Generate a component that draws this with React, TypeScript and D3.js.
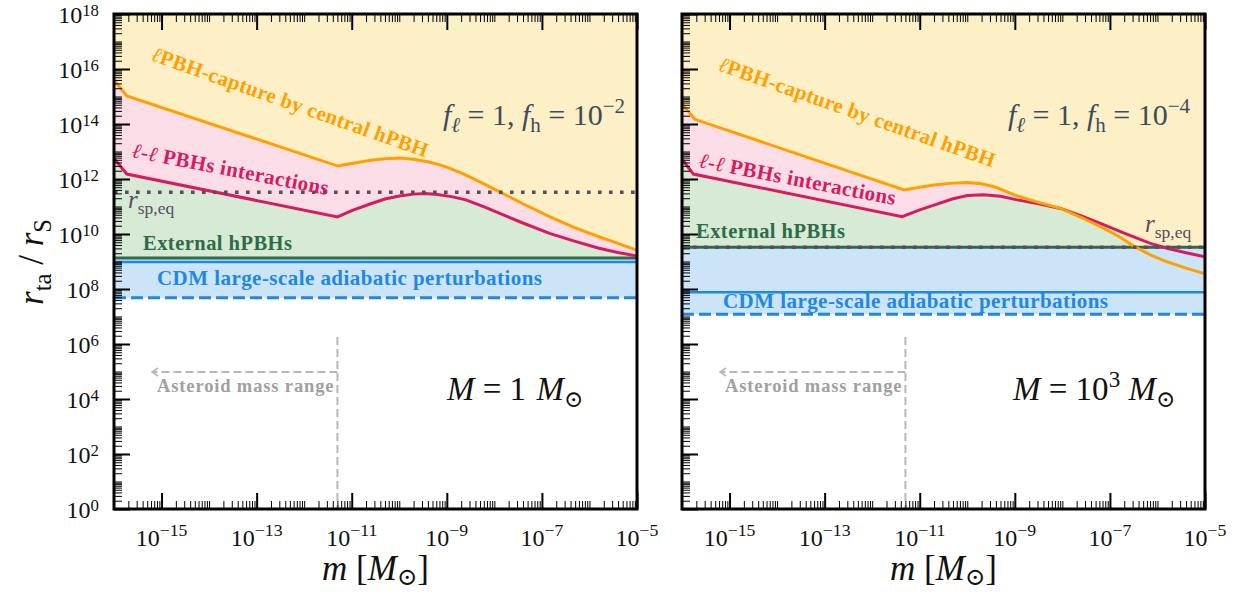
import React, { useEffect, useRef } from 'react';
import * as d3 from 'd3';

const FONT = '"Liberation Serif", "DejaVu Serif", serif';
const W = 1239;
const H = 596;

// values are log10(m / Msun) and log10(r_ta / r_S)
const captureM1 = [-16, -15.73, -11.29, -11.0, -10.6, -10.3, -10.0, -9.7, -9.4, -9.2, -9.0, -8.7, -8.4, -7.9, -7.4, -6.84, -6.3, -5.8, -5.4, -5.0];
const captureR1 = [15.6, 15.02, 12.47, 12.56, 12.68, 12.74, 12.76, 12.72, 12.63, 12.54, 12.43, 12.22, 11.98, 11.54, 11.1, 10.63, 10.22, 9.9, 9.66, 9.41];
const pairM1 = [-16, -15.73, -11.3, -11.0, -10.6, -10.3, -10.0, -9.7, -9.45, -9.2, -8.9, -8.6, -8.2, -7.9, -7.4, -6.84, -6.3, -5.8, -5.4, -5.0];
const pairR1 = [12.75, 12.18, 10.62, 10.85, 11.1, 11.27, 11.38, 11.45, 11.47, 11.44, 11.36, 11.24, 10.98, 10.76, 10.4, 10.02, 9.73, 9.48, 9.33, 9.2];

const captureM2 = [-16, -15.73, -11.33, -11.0, -10.7, -10.3, -10.0, -9.7, -9.4, -9.15, -8.95, -8.5, -8.04, -7.6, -7.2, -6.8, -6.5, -6.15, -5.8, -5.4, -5.0];
const captureR2 = [14.73, 14.17, 11.6, 11.7, 11.78, 11.85, 11.87, 11.83, 11.7, 11.52, 11.38, 11.15, 10.93, 10.6, 10.27, 9.9, 9.56, 9.24, 8.99, 8.76, 8.55];
const pairM2 = [-16, -15.76, -11.37, -11.0, -10.7, -10.3, -10.0, -9.66, -9.3, -8.95, -8.5, -8.04, -7.6, -7.2, -6.7, -6.15, -5.8, -5.4, -5.0];
const pairR2 = [12.72, 12.18, 10.63, 10.88, 11.05, 11.28, 11.4, 11.43, 11.37, 11.24, 11.1, 10.93, 10.66, 10.39, 10.03, 9.66, 9.48, 9.32, 9.17];

const hPbhLevel = [9.13, 9.52];
const cdmSolidLevel = [8.98, 7.88];
const cdmDashedLevel = [7.68, 7.08];
const rspEqLevel = [11.52, 9.52];
const fhExponent = [-2, -4];
const hostMassExponent = [0, 3];

const asteroidEdge = -11.3;
const asteroidTip = -15.2;

const xTickExps = [-15, -13, -11, -9, -7, -5];
const yTickExps = [0, 2, 4, 6, 8, 10, 12, 14, 16, 18];

// layout
const panelLeft = [114, 682];
const panelWidth = 523;
const plotTop = 14;
const plotBottom = 509;

const C = {
  yellow: 'rgb(253,240,198)',
  pinkFill: 'rgb(250,221,231)',
  greenFill: 'rgb(214,234,213)',
  blueFill: 'rgb(204,228,248)',
  orange: '#ffa000',
  pink: '#d81b60',
  green: '#2e6b47',
  blue: '#1e88e5',
  dotted: '#5b4a62',
  slate: '#3c4c5c',
  grey: '#b8b8b8',
  greyText: '#a0a0a0',
};

const pw = (e: number) => Math.pow(10, e);
const minus = (n: number) => (n < 0 ? '\u2212' + -n : String(n));

const interp = (xs: number[], ys: number[], v: number) => {
  if (v <= xs[0]) return ys[0];
  for (let k = 1; k < xs.length; k++) {
    if (v <= xs[k]) {
      const t = (v - xs[k - 1]) / (xs[k] - xs[k - 1]);
      return ys[k - 1] + t * (ys[k] - ys[k - 1]);
    }
  }
  return ys[ys.length - 1];
};

type Piece = { t: string; italic?: boolean; sub?: boolean; sup?: boolean; bold?: boolean; dx?: number; lift?: number; scale?: number };

function mathText(g: any, x: number, y: number, pieces: Piece[], size: number, color: string, anchor = 'start') {
  const t = g.append('text')
    .attr('x', x)
    .attr('y', y)
    .attr('font-family', FONT)
    .attr('font-size', size)
    .attr('fill', color)
    .attr('text-anchor', anchor)
    .style('white-space', 'pre');
  let shift = 0;
  pieces.forEach(p => {
    const target = p.lift !== undefined ? p.lift : p.sub ? size * 0.22 : p.sup ? -size * 0.4 : 0;
    const s = t.append('tspan').attr('dy', target - shift).text(p.t);
    shift = target;
    if (p.italic) s.attr('font-style', 'italic');
    if (p.bold) s.attr('font-weight', 'bold');
    if (p.sub || p.sup) s.attr('font-size', size * (p.scale || 0.7));
    if (p.dx) s.attr('dx', p.dx);
  });
  return t;
}

function drawPanel(svg: any, i: number) {
  const left = panelLeft[i];
  const x = d3.scaleLog().domain([1e-16, 1e-5]).range([left, left + panelWidth]);
  const y = d3.scaleLog().domain([1, 1e18]).range([plotBottom, plotTop]);

  const capM = i === 0 ? captureM1 : captureM2;
  const capR = i === 0 ? captureR1 : captureR2;
  const pairM = i === 0 ? pairM1 : pairM2;
  const pairR = i === 0 ? pairR1 : pairR2;
  const hLev = hPbhLevel[i];

  const clipId = `clip${i}`;
  svg.append('clipPath').attr('id', clipId)
    .append('rect')
    .attr('x', left).attr('y', plotTop)
    .attr('width', panelWidth).attr('height', plotBottom - plotTop);

  const g = svg.append('g').attr('clip-path', `url(#${clipId})`);

  // common grid for the fills
  const grid = Array.from(new Set([...d3.range(-16, -4.99, 0.02), ...capM, ...pairM])).sort((a, b) => a - b);
  const rows = grid.map(m => ({ m, cap: interp(capM, capR, m), pair: interp(pairM, pairR, m) }));

  g.append('path').datum(rows)
    .attr('fill', C.yellow)
    .attr('d', d3.area<any>().x(d => x(pw(d.m))).y0(d => y(pw(d.cap))).y1(plotTop));

  g.append('path').datum(rows)
    .attr('fill', C.pinkFill)
    .attr('d', d3.area<any>().x(d => x(pw(d.m))).y0(d => y(pw(d.pair))).y1(d => y(pw(Math.max(d.pair, d.cap)))));

  g.append('path').datum(rows)
    .attr('fill', C.greenFill)
    .attr('d', d3.area<any>().x(d => x(pw(d.m))).y0(y(pw(hLev))).y1(d => y(pw(Math.max(hLev, Math.min(d.pair, d.cap))))));

  const ends = [-16, -5];
  g.append('path').datum(ends)
    .attr('fill', C.blueFill)
    .attr('d', d3.area<number>().x(d => x(pw(d))).y0(y(pw(cdmDashedLevel[i]))).y1(y(pw(hLev))));

  const hline = (level: number) => d3.line<number>().x(d => x(pw(d))).y(() => y(pw(level)))(ends);

  g.append('path').attr('d', hline(hLev)).attr('stroke', C.green).attr('stroke-width', 3).attr('fill', 'none');
  g.append('path').attr('d', hline(cdmSolidLevel[i])).attr('stroke', C.blue).attr('stroke-width', 2.6).attr('fill', 'none');
  g.append('path').attr('d', hline(cdmDashedLevel[i])).attr('stroke', C.blue).attr('stroke-width', 3)
    .attr('stroke-dasharray', '12 5').attr('fill', 'none');

  const curve = (ms: number[], rs: number[]) =>
    d3.line<number>().x(d => x(pw(d))).y((d, k) => y(pw(rs[k])))(ms);

  g.append('path').attr('d', curve(pairM, pairR)).attr('stroke', C.pink).attr('stroke-width', 3).attr('fill', 'none');
  g.append('path').attr('d', curve(capM, capR)).attr('stroke', C.orange).attr('stroke-width', 3).attr('fill', 'none');

  g.append('path').attr('d', hline(rspEqLevel[i])).attr('stroke', C.dotted).attr('stroke-width', 3.6)
    .attr('stroke-dasharray', '3.6 7.4').attr('fill', 'none');

  // asteroid mass range marker
  const ax = x(pw(asteroidEdge));
  const tipX = x(pw(asteroidTip));
  const ay = 372;
  svg.append('line').attr('x1', ax).attr('x2', ax).attr('y1', 337).attr('y2', plotBottom)
    .attr('stroke', C.grey).attr('stroke-width', 2).attr('stroke-dasharray', '8 4');
  svg.append('line').attr('x1', ax).attr('x2', tipX + 1).attr('y1', ay).attr('y2', ay)
    .attr('stroke', C.grey).attr('stroke-width', 2).attr('stroke-dasharray', '8 4');
  svg.append('path').attr('d', `M${tipX + 6},${ay - 4} L${tipX},${ay} L${tipX + 6},${ay + 4}`)
    .attr('stroke', C.grey).attr('stroke-width', 1.6).attr('fill', 'none');
  svg.append('text').attr('x', tipX + 5).attr('y', 392)
    .attr('font-family', FONT).attr('font-weight', 'bold').attr('font-size', 18.5)
    .attr('fill', C.greyText).attr('textLength', ax - tipX - 9).text('Asteroid mass range');

  // region labels
  const lx = (dx: number) => left + dx;
  const capLabel = svg.append('text')
    .attr('transform', `translate(${lx(i === 0 ? 36 : 35)},${i === 0 ? 60 : 70}) rotate(19.5)`)
    .attr('font-family', FONT).attr('font-size', 21).attr('fill', C.orange)
    .attr('textLength', 292);
  capLabel.append('tspan').attr('font-style', 'italic').text('\u2113');
  capLabel.append('tspan').attr('font-weight', 'bold').text('PBH-capture by central hPBH');

  const pairLabel = svg.append('text')
    .attr('transform', `translate(${lx(i === 0 ? 17 : 16)},${i === 0 ? 157 : 167}) rotate(11)`)
    .attr('font-family', FONT).attr('font-size', 21).attr('fill', C.pink)
    .attr('textLength', 200);
  pairLabel.append('tspan').attr('font-style', 'italic').text('\u2113');
  pairLabel.append('tspan').attr('font-weight', 'bold').text('-');
  pairLabel.append('tspan').attr('font-style', 'italic').text('\u2113');
  pairLabel.append('tspan').attr('font-weight', 'bold').text(' PBHs interactions');

  svg.append('text').attr('x', lx(i === 0 ? 29 : 14)).attr('y', i === 0 ? 250 : 238)
    .attr('font-family', FONT).attr('font-weight', 'bold').attr('font-size', 20.5)
    .attr('fill', C.green).attr('textLength', 149).text('External hPBHs');

  svg.append('text').attr('x', lx(i === 0 ? 43 : 41)).attr('y', i === 0 ? 285 : 308)
    .attr('font-family', FONT).attr('font-weight', 'bold').attr('font-size', 21)
    .attr('fill', C.blue).attr('textLength', 385).text('CDM large-scale adiabatic perturbations');

  mathText(svg, i === 0 ? lx(14) : lx(463), i === 0 ? 208 : 232, [
    { t: 'r', italic: true },
    { t: 'sp,eq', sub: true },
  ], 25, C.dotted);

  mathText(svg, lx(i === 0 ? 329 : 326), 125, [
    { t: 'f', italic: true },
    { t: '\u2113', sub: true, italic: true },
    { t: ' = 1, ' },
    { t: 'f', italic: true },
    { t: 'h', sub: true },
    { t: ' = 10' },
    { t: minus(fhExponent[i]), sup: true },
  ], 30, C.slate);

  const hostPieces: Piece[] = hostMassExponent[i] === 0
    ? [{ t: 'M', italic: true }, { t: ' = 1 ' }, { t: 'M', italic: true, dx: 2 }, { t: '\u2299', sub: true }]
    : [{ t: 'M', italic: true }, { t: ' = 10' }, { t: String(hostMassExponent[i]), sup: true }, { t: ' ' }, { t: 'M', italic: true }, { t: '\u2299', sub: true }];
  mathText(svg, lx(i === 0 ? 333 : 331), 400, hostPieces, 33, '#111');

  // ticks
  const xMajor = xTickExps.map(pw);
  const xMinor: number[] = [];
  for (let e = -16; e < -5; e++) {
    for (let k = 1; k <= 9; k++) {
      if (k === 1 && xTickExps.includes(e)) continue;
      xMinor.push(k * pw(e));
    }
  }
  const yMajor = yTickExps.map(pw);
  const yMinor: number[] = [];
  for (let e = 0; e < 18; e++) {
    for (let k = 1; k <= 9; k++) {
      if (k === 1 && yTickExps.includes(e)) continue;
      yMinor.push(k * pw(e));
    }
  }

  const style = (sel: any, w: number) => {
    sel.select('.domain').remove();
    sel.selectAll('line').attr('stroke', '#000').attr('stroke-width', w);
  };

  svg.append('g').attr('transform', `translate(0,${plotBottom})`)
    .call(d3.axisBottom(x).tickValues(xMajor).tickSize(-16).tickFormat(() => ''))
    .call((s: any) => style(s, 2));
  svg.append('g').attr('transform', `translate(0,${plotBottom})`)
    .call(d3.axisBottom(x).tickValues(xMinor).tickSize(-8).tickFormat(() => ''))
    .call((s: any) => style(s, 1));
  svg.append('g').attr('transform', `translate(0,${plotTop})`)
    .call(d3.axisTop(x).tickValues(xMajor).tickSize(-16).tickFormat(() => ''))
    .call((s: any) => style(s, 2));
  svg.append('g').attr('transform', `translate(0,${plotTop})`)
    .call(d3.axisTop(x).tickValues(xMinor).tickSize(-8).tickFormat(() => ''))
    .call((s: any) => style(s, 1));
  svg.append('g').attr('transform', `translate(${left},0)`)
    .call(d3.axisLeft(y).tickValues(yMajor).tickSize(-16).tickFormat(() => ''))
    .call((s: any) => style(s, 2));
  svg.append('g').attr('transform', `translate(${left},0)`)
    .call(d3.axisLeft(y).tickValues(yMinor).tickSize(-8).tickFormat(() => ''))
    .call((s: any) => style(s, 1));

  svg.append('rect')
    .attr('x', left).attr('y', plotTop)
    .attr('width', panelWidth).attr('height', plotBottom - plotTop)
    .attr('fill', 'none').attr('stroke', '#000').attr('stroke-width', 3);

  // tick labels
  xTickExps.forEach(e => {
    mathText(svg, x(pw(e)), 546, [{ t: '10' }, { t: minus(e), sup: true, scale: 0.74 }], 24, '#111', 'middle');
  });
  if (i === 0) {
    yTickExps.forEach(e => {
      mathText(svg, left - 15, y(pw(e)) + 8.5, [{ t: '10' }, { t: String(e), sup: true, scale: 0.7, lift: -6.5 }], 24, '#111', 'end');
    });
  }

  // x axis title
  mathText(svg, left + panelWidth / 2, 580, [
    { t: 'm', italic: true },
    { t: ' [' },
    { t: 'M', italic: true },
    { t: '\u2299', sub: true, lift: 5 },
    { t: ']', lift: 0 },
  ], 35, '#111', 'middle');
}

const App = () => {
  const ref = useRef<SVGSVGElement>(null);

  useEffect(() => {
    const svg = d3.select(ref.current);
    svg.selectAll('*').remove();

    drawPanel(svg, 0);
    drawPanel(svg, 1);

    // y axis title
    const yt = svg.append('g').attr('transform', `translate(43,262) rotate(-90)`);
    mathText(yt, 0, 0, [
      { t: 'r', italic: true },
      { t: 'ta', sub: true },
      { t: ' / ' },
      { t: 'r', italic: true },
      { t: 'S', sub: true },
    ], 35, '#111', 'middle');
  }, []);

  return (
    <svg
      ref={ref}
      width={W}
      height={H}
      style={{ position: 'absolute', left: 0, top: 0, background: '#fff' }}
    />
  );
};

export default App;
